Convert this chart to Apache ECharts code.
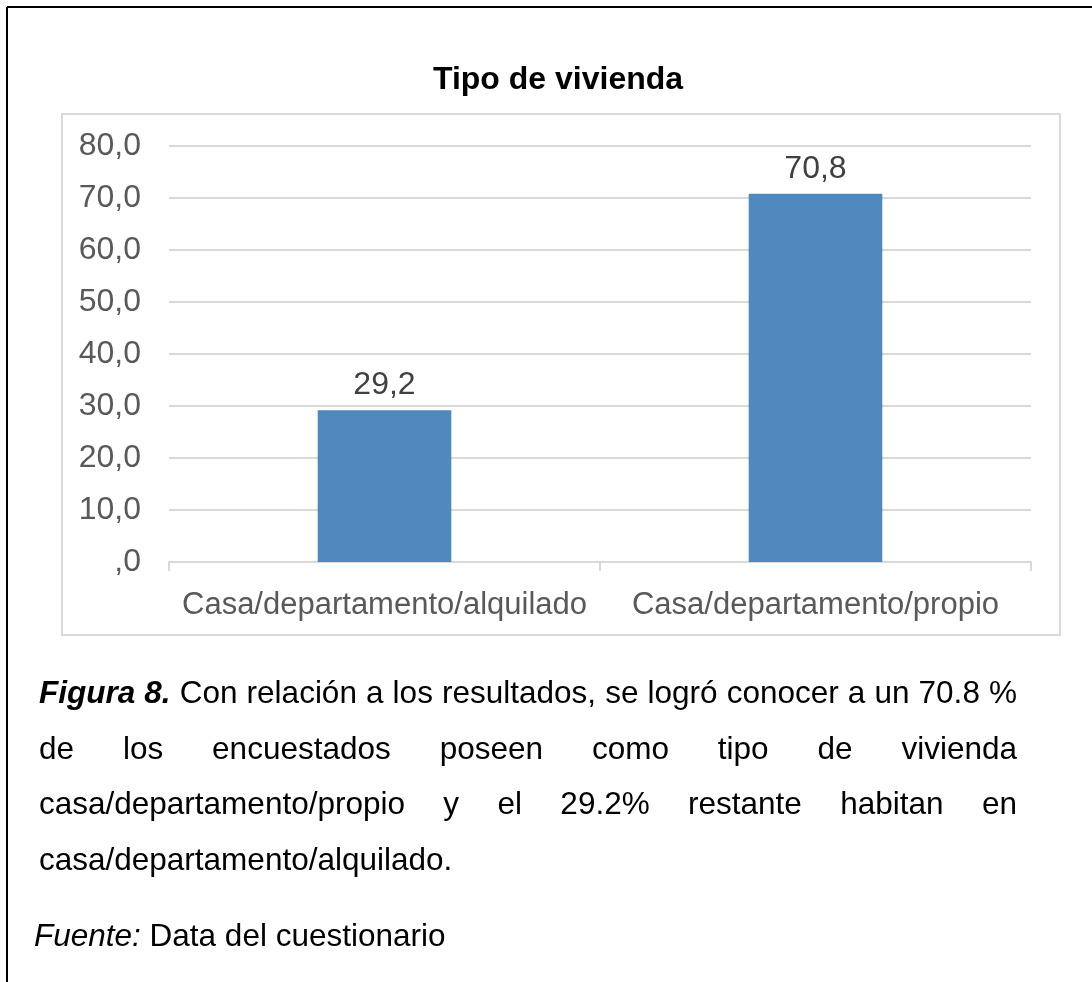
<!DOCTYPE html>
<html>
<head>
<meta charset="utf-8">
<script src="https://cdn.jsdelivr.net/npm/echarts@6/dist/echarts.min.js"></script>
<style>
  html, body { margin: 0; padding: 0; background: #fff; }
  #main { width: 1092px; height: 982px; }
</style>
</head>
<body>
<div id="main"></div>
<script>
// datos del gráfico
var categorias = ['Casa/departamento/alquilado', 'Casa/departamento/propio'];
var porcentajes = [29.2, 70.8];
var yMin = 0, yMax = 80, yPaso = 10;

// texto de la figura (líneas justificadas)
var lineaFigura = 'Con relación a los resultados, se logró conocer a un 70.8 %';
var lineasTexto = [
  'de los encuestados poseen como tipo de vivienda',
  'casa/departamento/propio y el 29.2% restante habitan en'
];

var FONT = '"Liberation Sans", Arial, sans-serif';

// formato con coma decimal, el cero se muestra como ",0"
function comaDecimal(v) {
  var s = v.toFixed(1).replace('.', ',');
  return s.indexOf('0,') === 0 ? s.substring(1) : s;
}

var cv = document.createElement('canvas').getContext('2d');
function ancho(txt, size, weight, style) {
  cv.font = (style || 'normal') + ' ' + (weight || 'normal') + ' ' + size + 'px ' + FONT;
  return cv.measureText(txt).width;
}

// línea justificada: reparte las palabras entre izquierda y derecha
// cada palabra: {t, w (bold), s (italic)}
function justificar(palabras, x0, x1, y, size) {
  var total = 0;
  palabras.forEach(function (p) { total += ancho(p.t, size, p.w, p.s); });
  var hueco = (x1 - x0 - total) / (palabras.length - 1);
  var x = x0, out = [];
  palabras.forEach(function (p) {
    out.push({
      type: 'text', x: x, y: y,
      style: { text: p.t, fontSize: size, fontFamily: FONT, fontWeight: p.w || 'normal',
        fontStyle: p.s || 'normal', fill: '#000', verticalAlign: 'middle' }
    });
    x += ancho(p.t, size, p.w, p.s) + hueco;
  });
  return out;
}
function palabras(txt) {
  return txt.split(' ').map(function (t) { return { t: t }; });
}

var chart = echarts.init(document.getElementById('main'));
var fs = 31;
var fc = 31.5;
var izq = 39, der = 1017;
var graficos = [
  // marco exterior (solo arriba e izquierda)
  { type: 'line', shape: { x1: 7, y1: 7, x2: 1092, y2: 7 }, style: { stroke: '#000', lineWidth: 2 } },
  { type: 'line', shape: { x1: 7, y1: 7, x2: 7, y2: 982 }, style: { stroke: '#000', lineWidth: 2 } },
  // marco del área del gráfico
  { type: 'rect', shape: { x: 62, y: 114, width: 998, height: 521 }, style: { fill: 'none', stroke: '#d9d9d9', lineWidth: 2 } }
];
var l1 = [{ t: 'Figura', w: 'bold', s: 'italic' }, { t: '8.', w: 'bold', s: 'italic' }].concat(palabras(lineaFigura));
graficos = graficos.concat(justificar(l1, izq, der, 694, fc));
graficos = graficos.concat(justificar(palabras(lineasTexto[0]), izq, der, 750, fc));
graficos = graficos.concat(justificar(palabras(lineasTexto[1]), izq, der, 805, fc));
graficos.push({ type: 'text', x: izq, y: 861,
  style: { text: 'casa/departamento/alquilado.', fontSize: fc, fontFamily: FONT, fill: '#000', verticalAlign: 'middle' } });
var wFuente = ancho('Fuente:', fc, 'normal', 'italic');
graficos.push({ type: 'text', x: 34, y: 937,
  style: { text: 'Fuente:', fontSize: fc, fontFamily: FONT, fontStyle: 'italic', fill: '#000', verticalAlign: 'middle' } });
graficos.push({ type: 'text', x: 34 + wFuente, y: 937,
  style: { text: ' Data del cuestionario', fontSize: fc, fontFamily: FONT, fill: '#000', verticalAlign: 'middle' } });

var option = {
  backgroundColor: '#fff',
  animation: false,
  title: {
    text: 'Tipo de vivienda',
    left: 553,
    top: 75,
    textAlign: 'center',
    textVerticalAlign: 'middle',
    textStyle: { fontFamily: FONT, fontSize: 32, fontWeight: 'bold', color: '#000' }
  },
  grid: { left: 169, right: 61, top: 146, bottom: 420, containLabel: false },
  xAxis: {
    type: 'category',
    data: categorias,
    axisLine: { lineStyle: { color: '#d9d9d9', width: 2 } },
    axisTick: { show: true, length: 9, lineStyle: { color: '#d9d9d9', width: 2 } },
    axisLabel: { color: '#595959', fontSize: fs, fontFamily: FONT, margin: 28, interval: 0 }
  },
  yAxis: {
    type: 'value',
    min: yMin, max: yMax, interval: yPaso,
    axisLine: { show: false },
    axisTick: { show: false },
    splitLine: { lineStyle: { color: '#d9d9d9', width: 2 } },
    axisLabel: { color: '#595959', fontSize: 32, fontFamily: FONT, margin: 28, formatter: comaDecimal }
  },
  series: [{
    type: 'bar',
    data: porcentajes,
    barWidth: '31%',
    itemStyle: { color: '#4f89bd' },
    label: {
      show: true, position: 'top', distance: 9,
      color: '#404040', fontSize: 32, fontFamily: FONT,
      formatter: function (p) { return comaDecimal(p.value); }
    }
  }],
  graphic: graficos
};
chart.setOption(option);
</script>
</body>
</html>
